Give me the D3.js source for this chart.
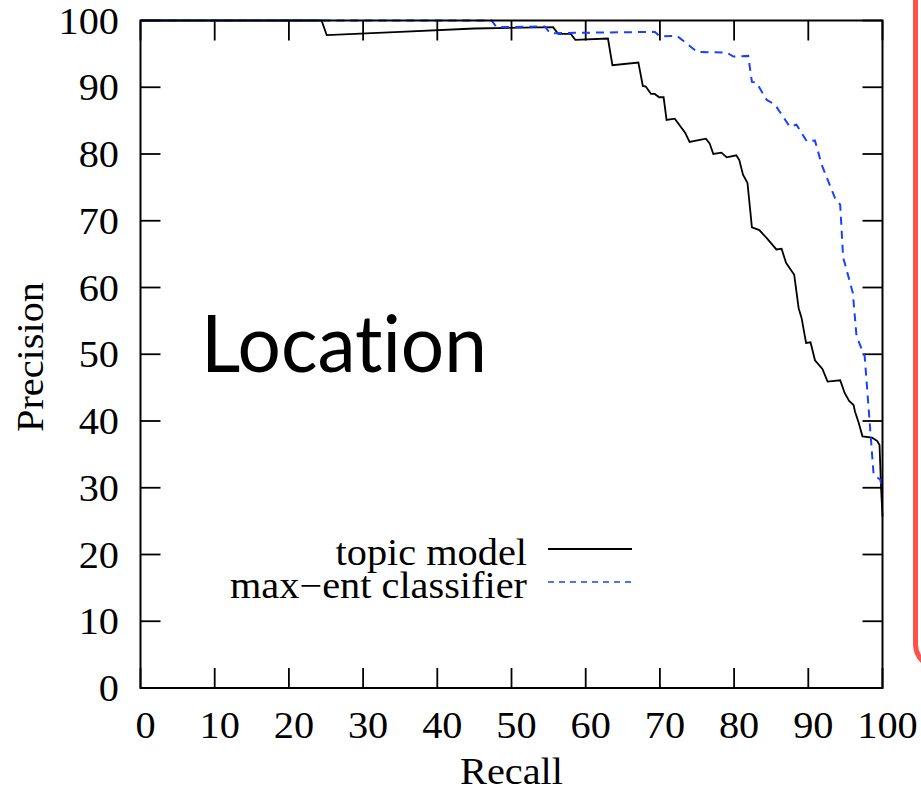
<!DOCTYPE html>
<html>
<head>
<meta charset="utf-8">
<script src="https://cdn.jsdelivr.net/npm/d3@7"></script>
<style>
  body { margin: 0; background: #fff; }
  svg { display: block; }
</style>
</head>
<body>
<script>
// recall / precision pairs
var topicRecall = [0, 24.4, 25.1, 35, 45, 55.6, 56.3, 58.0, 58.6, 63.0, 63.6, 67.1, 67.7, 68.1, 68.8, 69.3, 69.9, 70.5, 70.9, 72.0, 73.4, 74.0, 76.2, 76.7, 77.2, 78.3, 79.0, 80.3, 80.7, 81.2, 81.8, 82.4, 83.4, 84.4, 85.7, 86.4, 87.0, 88.1, 88.7, 89.1, 89.7, 90.3, 90.9, 91.9, 92.6, 94.3, 94.9, 95.5, 96.1, 96.3, 96.8, 97.3, 98.6, 99.3, 99.6, 99.8, 100];
var topicPrecision = [100, 100, 97.8, 98.3, 98.8, 99.0, 98.0, 98.0, 97.1, 97.3, 93.3, 93.7, 90.2, 90.1, 89.0, 89.0, 88.5, 88.5, 85.1, 85.3, 83.2, 81.8, 82.3, 81.6, 80.0, 80.2, 79.5, 79.8, 79.1, 76.9, 75.7, 69.0, 68.6, 67.4, 65.7, 65.8, 63.7, 61.9, 56.9, 55.4, 51.7, 51.8, 49.1, 47.8, 45.9, 46.1, 44.2, 43.0, 42.4, 41.4, 39.7, 37.7, 37.5, 37.0, 36.4, 30.2, 25.7];

var maxentRecall = [0, 47.3, 48.0, 54.5, 55.2, 69.3, 70.0, 72.3, 75.0, 79.0, 79.9, 81.9, 82.4, 83.0, 84.4, 85.5, 87.5, 88.4, 89.8, 90.9, 91.8, 93.6, 94.3, 94.7, 94.9, 96.0, 96.5, 97.6, 98.8, 99.7, 100];
var maxentPrecision = [100, 100, 99.0, 99.1, 98.1, 98.3, 97.6, 97.7, 95.3, 95.2, 94.6, 94.7, 90.8, 90.7, 88.1, 87.4, 84.1, 84.4, 81.9, 82.0, 78.4, 73.4, 72.4, 64.4, 63.7, 59.2, 52.7, 49.7, 32.0, 31.2, 29.7];

var xTicks = [0, 10, 20, 30, 40, 50, 60, 70, 80, 90, 100];
var yTicks = [0, 10, 20, 30, 40, 50, 60, 70, 80, 90, 100];
var seriesNames = ['topic model', 'max\u2212ent classifier'];

var W = 921, H = 791;
var plotLeft = 140.5, plotRight = 882.5, plotTop = 20.5, plotBottom = 688;
var serif = '"Liberation Serif", "Times New Roman", serif';
var blue = '#1a40ff';
var stretch = 'scale(1.09,1)';  // the original serif glyphs run a bit wide

var x = d3.scaleLinear().domain([0, 100]).range([plotLeft, plotRight]);
var y = d3.scaleLinear().domain([0, 100]).range([plotBottom, plotTop]);

var svg = d3.select('body').append('svg')
  .attr('width', W)
  .attr('height', H);

var serifText = function(parent, tx, ty, str, anchor, rot) {
  return parent.append('text')
    .attr('transform', 'translate(' + tx + ',' + ty + ')' + (rot ? ' rotate(' + rot + ')' : '') + ' ' + stretch)
    .attr('text-anchor', anchor)
    .attr('font-family', serif)
    .attr('font-size', 37)
    .text(str);
};

// red slide box peeking in on the right
svg.append('rect')
  .attr('x', 915.5)
  .attr('y', -40)
  .attr('width', 60)
  .attr('height', 708)
  .attr('rx', 24)
  .attr('fill', 'none')
  .attr('stroke', '#ff5148')
  .attr('stroke-width', 5);

// inward ticks on all four sides
var tickLen = 20;
var ticks = svg.append('g').attr('stroke', '#000').attr('stroke-width', 1.8);
xTicks.forEach(function(t) {
  ticks.append('line').attr('x1', x(t)).attr('x2', x(t)).attr('y1', plotBottom).attr('y2', plotBottom - tickLen);
  ticks.append('line').attr('x1', x(t)).attr('x2', x(t)).attr('y1', plotTop).attr('y2', plotTop + tickLen);
});
yTicks.forEach(function(t) {
  ticks.append('line').attr('x1', plotLeft).attr('x2', plotLeft + tickLen).attr('y1', y(t)).attr('y2', y(t));
  ticks.append('line').attr('x1', plotRight).attr('x2', plotRight - tickLen).attr('y1', y(t)).attr('y2', y(t));
});

// tick labels
var labels = svg.append('g');
xTicks.forEach(function(t) {
  serifText(labels, x(t) + 5, 738, t, 'middle');
});
yTicks.forEach(function(t) {
  serifText(labels, 119, y(t) + 13, t, 'end');
});

// axis titles
serifText(svg, (plotLeft + plotRight) / 2, 784, 'Recall', 'middle');
serifText(svg, 43, 357, 'Precision', 'middle', -90);

// big slide label
svg.append('text')
  .attr('x', 201)
  .attr('y', 372)
  .attr('font-family', 'Lato, "Open Sans", sans-serif')
  .attr('font-size', 80)
  .attr('textLength', 286)
  .attr('lengthAdjust', 'spacingAndGlyphs')
  .style('font-variant-ligatures', 'none')
  .text('Location');

// curves
var line = d3.line()
  .x(function(d) { return x(d[0]); })
  .y(function(d) { return y(d[1]); });

var topicData = d3.zip(topicRecall, topicPrecision);
var maxentData = d3.zip(maxentRecall, maxentPrecision);

svg.append('path')
  .datum(topicData)
  .attr('d', line)
  .attr('fill', 'none')
  .attr('stroke', '#000')
  .attr('stroke-width', 1.8);

svg.append('path')
  .datum(maxentData)
  .attr('d', line)
  .attr('fill', 'none')
  .attr('stroke', blue)
  .attr('stroke-width', 2)
  .attr('stroke-dasharray', '8,6');

// legend
var legend = svg.append('g');
var legendY = [565, 598];
var legendStroke = ['#000', blue];
var legendDash = [null, '6,5'];
seriesNames.forEach(function(name, i) {
  serifText(legend, 527, legendY[i], name, 'end');
  legend.append('line')
    .attr('x1', 548)
    .attr('x2', 632)
    .attr('y1', legendY[i] - 16)
    .attr('y2', legendY[i] - 16)
    .attr('stroke', legendStroke[i])
    .attr('stroke-width', i == 0 ? 2 : 1.5)
    .attr('stroke-dasharray', legendDash[i]);
});

// frame
svg.append('rect')
  .attr('x', plotLeft)
  .attr('y', plotTop)
  .attr('width', plotRight - plotLeft)
  .attr('height', plotBottom - plotTop)
  .attr('fill', 'none')
  .attr('stroke', '#000')
  .attr('stroke-width', 2);
</script>
</body>
</html>
